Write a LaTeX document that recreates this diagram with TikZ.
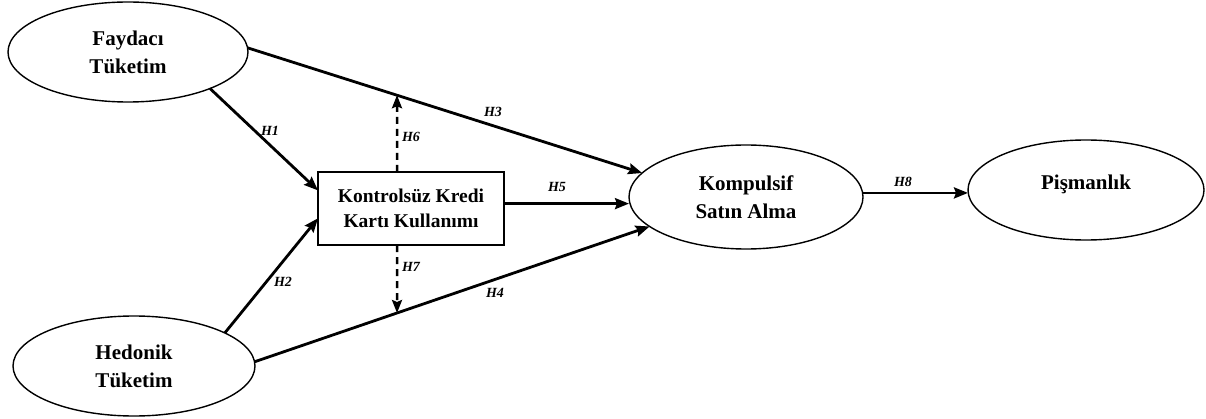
\documentclass[tikz,border=0pt]{standalone}
\usepackage{fontspec}
\setmainfont{Liberation Serif}
\usetikzlibrary{arrows.meta,calc,shapes.geometric}
\begin{document}
\begin{tikzpicture}[x=1pt,y=1pt,
  latent/.style={ellipse,draw,line width=1.4pt,inner sep=0pt,outer sep=0pt,align=center,
    font=\fontsize{21}{28}\selectfont\bfseries},
  boxnode/.style={rectangle,draw,line width=1.4pt,inner sep=0pt,outer sep=0pt,align=center,
    minimum width=186pt,minimum height=73pt,font=\fontsize{19.5}{25}\selectfont\bfseries},
  arr/.style={line width=2.8pt,-{Stealth[length=14pt,width=11pt,inset=2pt]}},
  darr/.style={line width=2.5pt,dash pattern=on 7pt off 5pt,-{Stealth[length=13pt,width=10pt,inset=2pt]}},
  hlab/.style={font=\fontsize{14}{16}\selectfont\bfseries\itshape,inner sep=0pt}]
\useasboundingbox (0,0) rectangle (1206,418);
\node[latent,minimum width=240pt,minimum height=100pt] (fay) at (128,366) {Faydacı\\Tüketim};
\node[latent,minimum width=242pt,minimum height=100pt] (hed) at (134,52) {Hedonik\\Tüketim};
\node[boxnode] (box) at (411,209.5) {Kontrolsüz Kredi\\Kartı Kullanımı};
\node[latent,minimum width=234pt,minimum height=104pt] (komp) at (746,221) {Kompulsif\\Satın Alma};
\node[latent,minimum width=236pt,minimum height=100pt] (pis) at (1086,228) {};
\node[font=\fontsize{21}{28}\selectfont\bfseries,inner sep=0pt] (pistext) at (1086,234) {Pişmanlık};
% main paths
\draw[arr] (fay.2) -- (komp.167);
\draw[arr] (hed.2) -- (komp.197);
\draw[arr] (fay.336) -- (box.169);
\draw[arr] (hed.20) -- (box.186);
\draw[arr] (box.3) -- (box.3 -| komp.west);
\draw[arr] (komp.2) -- (komp.2 -| pis.west);
% moderation
\coordinate (h6a) at ($(box.north)+(-14,0)$);
\coordinate (h7a) at ($(box.south)+(-14,0)$);
\path (intersection cs:first line={(fay.2)--(komp.167)},second line={(h6a)--($(h6a)+(0,10)$)}) coordinate (h6b);
\path (intersection cs:first line={(hed.2)--(komp.197)},second line={(h7a)--($(h7a)+(0,10)$)}) coordinate (h7b);
\draw[darr] (h6a) -- (h6b);
\draw[darr] (h7a) -- (h7b);
% labels
\node[hlab] (l1) at (270,287) {H1};
\node[hlab] (l2) at (283,136) {H2};
\node[hlab] (l3) at (493,306) {H3};
\node[hlab] (l4) at (495,125) {H4};
\node[hlab] (l5) at (557,231) {H5};
\node[hlab] (l6) at (411,281) {H6};
\node[hlab] (l7) at (411,151) {H7};
\node[hlab] (l8) at (903,236) {H8};
\end{tikzpicture}
\end{document}
